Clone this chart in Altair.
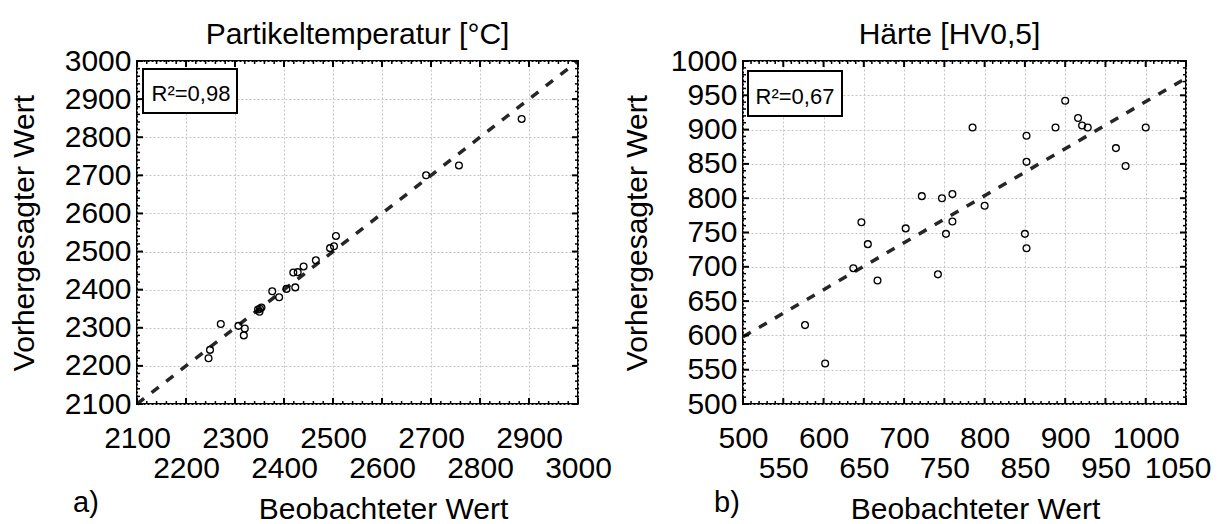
import altair as alt
import pandas as pd

FONT = "Liberation Sans"

# ---------------- a) Partikeltemperatur [°C] ----------------
temp_observed = [2246, 2249, 2271, 2307, 2320, 2318, 2350, 2351, 2354, 2347,
                 2376, 2390, 2405, 2423, 2419, 2428, 2440, 2465, 2494, 2502,
                 2506, 2690, 2757, 2885]
temp_predicted = [2220, 2242, 2310, 2305, 2298, 2280, 2342, 2350, 2353, 2348,
                  2396, 2380, 2402, 2406, 2445, 2446, 2461, 2477, 2509, 2514,
                  2541, 2700, 2726, 2848]
temp_fit_observed = [2100, 3000]
temp_fit_predicted = [2100, 3000]
temp_major = [2100, 2200, 2300, 2400, 2500, 2600, 2700, 2800, 2900, 3000]
temp_minor = [v for v in range(2100, 3001, 20) if v % 100 != 0]
temp_r2 = "R²=0,98"

# ---------------- b) Härte [HV0,5] ----------------
hard_observed = [785, 852, 852, 722, 747, 760, 800, 647, 702, 760,
                 752, 850, 655, 852, 637, 742, 667, 577, 602, 900,
                 916, 921, 928, 888, 963, 975, 1000]
hard_predicted = [903, 891, 853, 803, 800, 806, 789, 765, 756, 766,
                  748, 748, 733, 727, 698, 689, 680, 615, 559, 942,
                  917, 906, 903, 903, 873, 847, 903]
hard_fit_observed = [500, 1050]
hard_fit_predicted = [598, 975]
hard_major_x = [500, 550, 600, 650, 700, 750, 800, 850, 900, 950, 1000, 1050]
hard_major_y = [500, 550, 600, 650, 700, 750, 800, 850, 900, 950, 1000]
hard_minor_x = [v for v in range(500, 1051, 10) if v % 50 != 0]
hard_minor_y = [v for v in range(500, 1001, 10) if v % 50 != 0]
hard_r2 = "R²=0,67"

H = 343


def panel(obs, pred, fit_obs, fit_pred, x_dom, y_dom, x_major, y_major,
          x_minor, y_minor, W, title, title_dx, r2, box, r2_xy, tag, tag_x,
          ytitle_x, xtitle_x, lower_expr, flush, flush_offset):
    xs = alt.Scale(domain=x_dom, nice=False, zero=False)
    ys = alt.Scale(domain=y_dom, nice=False, zero=False)
    xaxis = alt.Axis(values=x_major, format="d", grid=True, ticks=False, tickSize=0,
                     domain=False, labelFontSize=30, labelPadding=19,
                     labelLineHeight=30, labelOverlap=False, labelFlush=flush,
                     labelFlushOffset=flush_offset,
                     labelExpr=f"({lower_expr}) ? [' ', datum.label] : datum.label",
                     title="Beobachteter Wert", titleFontSize=30,
                     titleFontWeight="normal", titleX=xtitle_x, titleY=114,
                     titleBaseline="alphabetic", titleAlign="center")
    yaxis = alt.Axis(values=y_major, format="d", grid=True, ticks=False, tickSize=0,
                     domain=False, labelFontSize=30, labelPadding=6,
                     labelOverlap=False, labelFlush=False,
                     title="Vorhergesagter Wert", titleFontSize=30,
                     titleFontWeight="normal", titleX=ytitle_x, titleY=H / 2,
                     titleBaseline="middle", titleAlign="center", titleAngle=270)
    X = alt.X("obs:Q", scale=xs, axis=xaxis)
    Y = alt.Y("pred:Q", scale=ys, axis=yaxis)

    line = alt.Chart(pd.DataFrame({"obs": fit_obs, "pred": fit_pred})).mark_line(
        color="#262626", strokeWidth=3.5, strokeDash=[9, 9.5]
    ).encode(x=X, y=Y)
    pts = alt.Chart(pd.DataFrame({"obs": obs, "pred": pred})).mark_point(
        shape="circle", filled=False, size=46, strokeWidth=1.3, color="black", opacity=1
    ).encode(x=X, y=Y)

    def xt(vals, y0, y1, w):
        return alt.Chart(pd.DataFrame({"obs": vals})).mark_rule(
            color="black", strokeWidth=w).encode(x=X, y=alt.value(y0), y2=alt.value(y1))

    def yt(vals, x0, x1, w):
        return alt.Chart(pd.DataFrame({"pred": vals})).mark_rule(
            color="black", strokeWidth=w).encode(y=Y, x=alt.value(x0), x2=alt.value(x1))

    ticks = [
        xt(x_major, H, H - 6, 2), xt(x_major, 0, 6, 2),
        xt(x_minor, H, H - 3, 1.5), xt(x_minor, 0, 3, 1.5),
        yt(y_major, 0, 6, 2), yt(y_major, W, W - 6, 2),
        yt(y_minor, 0, 3, 1.5), yt(y_minor, W, W - 3, 1.5),
    ]

    lab = pd.DataFrame({"t": [r2]})
    rect = alt.Chart(lab).mark_rect(fill="white", stroke="black", strokeWidth=2).encode(
        x=alt.value(box[0]), x2=alt.value(box[1]), y=alt.value(box[2]), y2=alt.value(box[3]))
    txt = alt.Chart(lab).mark_text(fontSize=22, font=FONT, color="black",
                                   baseline="alphabetic", align="center").encode(
        text="t:N", x=alt.value(r2_xy[0]), y=alt.value(r2_xy[1]))
    tagt = alt.Chart(pd.DataFrame({"t": [tag]})).mark_text(
        fontSize=29, font=FONT, color="black", baseline="alphabetic", align="center"
    ).encode(text="t:N", x=alt.value(tag_x), y=alt.value(H + 108))

    return alt.layer(line, pts, *ticks, rect, txt, tagt).properties(
        width=W, height=H,
        title=alt.TitleParams(title, fontSize=30, font=FONT, fontWeight="normal",
                              color="black", offset=-4, dx=title_dx))


left = panel(temp_observed, temp_predicted, temp_fit_observed, temp_fit_predicted,
             [2100, 3000], [2100, 3000], temp_major, temp_major, temp_minor, temp_minor,
             441, "Partikeltemperatur [°C]", 0, temp_r2, (6, 100, 8, 52), (54, 40),
             "a)", -51, -113, 246, "round(datum.value / 100) % 2 == 0", False, 0)

right = panel(hard_observed, hard_predicted, hard_fit_observed, hard_fit_predicted,
              [500, 1050], [500, 1000], hard_major_x, hard_major_y, hard_minor_x,
              hard_minor_y, 443, "Härte [HV0,5]", -15, hard_r2, (5, 99, 10, 55),
              (52, 43), "b)", -16, -106, 232, "datum.value % 100 != 0", True, 25)

chart = alt.hconcat(left, right, spacing=8).properties(
    padding={"left": 0, "top": 11, "right": 0, "bottom": 0}
).configure(font=FONT).configure_view(
    stroke="black", strokeWidth=2
).configure_axis(
    labelFont=FONT, titleFont=FONT, labelColor="black", titleColor="black",
    gridColor="#c4c4c4", gridDash=[2, 2], gridWidth=1
).configure_title(font=FONT, color="black")

chart.save("out.html", embed_options={"renderer": "svg", "actions": False})
